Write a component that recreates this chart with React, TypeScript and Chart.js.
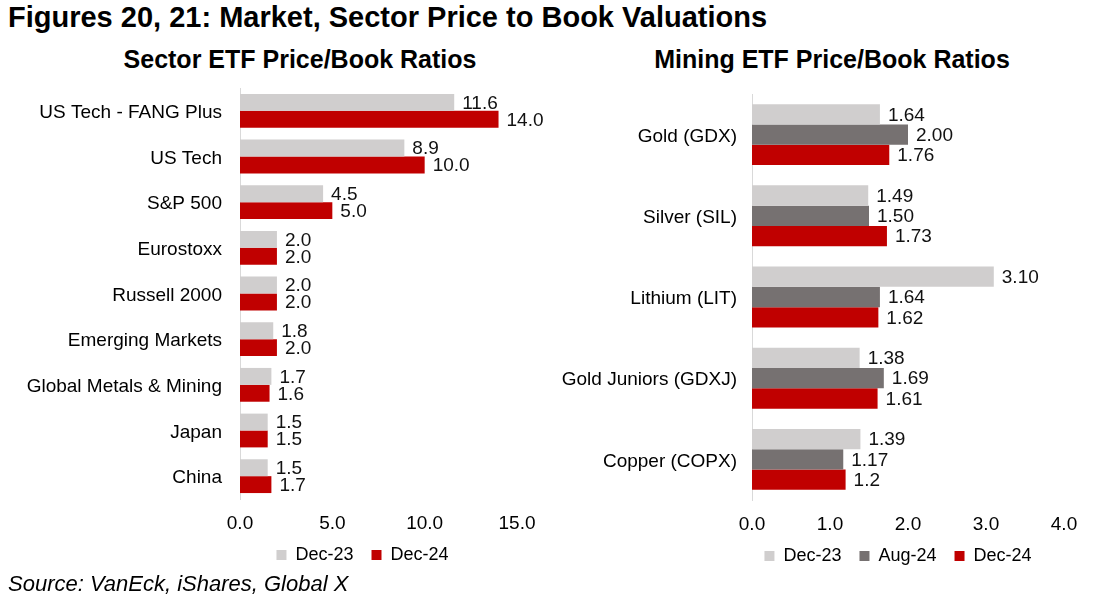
import React, { useEffect, useRef } from "react";
import { Chart, registerables } from "chart.js";
Chart.register(...registerables);

const FONT = "'Liberation Sans', Arial, Helvetica, sans-serif";

const sectorCategories = [
  "US Tech - FANG Plus",
  "US Tech",
  "S&P 500",
  "Eurostoxx",
  "Russell 2000",
  "Emerging Markets",
  "Global Metals & Mining",
  "Japan",
  "China",
];
const sectorDec23 = [11.6, 8.9, 4.5, 2.0, 2.0, 1.8, 1.7, 1.5, 1.5];
const sectorDec24 = [14.0, 10.0, 5.0, 2.0, 2.0, 2.0, 1.6, 1.5, 1.7];
const sectorTicks = [0, 5, 10, 15];

const miningCategories = [
  "Gold (GDX)",
  "Silver (SIL)",
  "Lithium (LIT)",
  "Gold Juniors (GDXJ)",
  "Copper (COPX)",
];
const miningDec23 = [1.64, 1.49, 3.1, 1.38, 1.39];
const miningAug24 = [2.0, 1.5, 1.64, 1.69, 1.17];
const miningDec24 = [1.76, 1.73, 1.62, 1.61, 1.2];
const miningDec24Text = ["1.76", "1.73", "1.62", "1.61", "1.2"];
const miningTicks = [0, 1, 2, 3, 4];

const COL_LIGHT = "#D0CECE";
const COL_DARK = "#767171";
const COL_RED = "#C00000";

const valueLabels = {
  id: "valueLabels",
  afterDatasetsDraw(chart: any) {
    const ctx = chart.ctx;
    ctx.save();
    ctx.font = `19px ${FONT}`;
    ctx.fillStyle = "#111111";
    ctx.textBaseline = "middle";
    ctx.textAlign = "left";
    chart.data.datasets.forEach((ds: any, i: number) => {
      const meta = chart.getDatasetMeta(i);
      meta.data.forEach((el: any, j: number) => {
        const text = ds.labelTexts[j];
        ctx.fillText(text, el.x + 8, el.y + 1);
      });
    });
    ctx.restore();
  },
};

function legendShift(dx: number, dy: number) {
  return {
    id: "legendShift",
    afterLayout(chart: any) {
      if (chart.legend) {
        chart.legend.left += dx;
        chart.legend.right += dx;
        chart.legend.top += dy;
        chart.legend.bottom += dy;
      }
    },
  };
}

function makeConfig(opts: {
  labels: string[];
  datasets: any[];
  ticks: number[];
  decimals: number;
  yWidth: number;
  yPad: number;
  padding: any;
  legendDx: number;
  legendDy: number;
}) {
  return {
    type: "bar",
    data: { labels: opts.labels, datasets: opts.datasets },
    plugins: [valueLabels, legendShift(opts.legendDx, opts.legendDy)],
    options: {
      animation: false,
      responsive: false,
      indexAxis: "y",
      layout: { padding: opts.padding },
      plugins: {
        title: { display: false },
        tooltip: { enabled: false },
        legend: {
          display: true,
          position: "bottom",
          fullSize: false,
          labels: {
            boxWidth: 10,
            boxHeight: 10,
            color: "#000",
            padding: 18,
            font: { size: 18, family: FONT },
          },
        },
      },
      scales: {
        x: {
          min: opts.ticks[0],
          max: opts.ticks[opts.ticks.length - 1],
          afterBuildTicks: (s: any) => {
            s.ticks = opts.ticks.map((v) => ({ value: v }));
          },
          ticks: {
            callback: (v: any) => Number(v).toFixed(opts.decimals),
            color: "#000",
            padding: 13,
            font: { size: 19, family: FONT },
            maxRotation: 0,
          },
          grid: { display: false, drawTicks: false },
          border: { display: false },
          afterFit: (s: any) => {
            s.height = 36;
            s.paddingLeft = 0;
            s.paddingRight = 0;
          },
        },
        y: {
          grid: { display: false, drawTicks: false },
          border: { display: true, color: "#D9D9D9", width: 1 },
          ticks: {
            color: "#000",
            padding: opts.yPad,
            labelOffset: 2,
            font: { size: 19, family: FONT },
          },
          afterFit: (s: any) => {
            s.width = opts.yWidth;
            s.paddingTop = 0;
            s.paddingBottom = 0;
          },
        },
      },
    },
  };
}

function ChartCanvas(props: { config: any; left: number; top: number; width: number; height: number }) {
  const ref = useRef<HTMLCanvasElement | null>(null);
  useEffect(() => {
    if (!ref.current) return;
    const chart = new Chart(ref.current, props.config);
    return () => chart.destroy();
  }, []);
  return (
    <canvas
      ref={ref}
      width={props.width}
      height={props.height}
      style={{ position: "absolute", left: props.left, top: props.top, width: props.width, height: props.height }}
    />
  );
}

export default function App() {
  const leftConfig = makeConfig({
    labels: sectorCategories,
    datasets: [
      {
        label: "Dec-23",
        data: sectorDec23,
        backgroundColor: COL_LIGHT,
        labelTexts: sectorDec23.map((v) => v.toFixed(1)),
        categoryPercentage: 0.74,
        barPercentage: 1,
      },
      {
        label: "Dec-24",
        data: sectorDec24,
        backgroundColor: COL_RED,
        labelTexts: sectorDec24.map((v) => v.toFixed(1)),
        categoryPercentage: 0.74,
        barPercentage: 1,
      },
    ],
    ticks: sectorTicks,
    decimals: 1,
    yWidth: 240,
    yPad: 18,
    padding: { top: 8, right: 28, left: 0, bottom: 0 },
    legendDx: -16,
    legendDy: -7,
  });

  const rightConfig = makeConfig({
    labels: miningCategories,
    datasets: [
      {
        label: "Dec-23",
        data: miningDec23,
        backgroundColor: COL_LIGHT,
        labelTexts: miningDec23.map((v) => v.toFixed(2)),
        categoryPercentage: 0.75,
        barPercentage: 1,
      },
      {
        label: "Aug-24",
        data: miningAug24,
        backgroundColor: COL_DARK,
        labelTexts: miningAug24.map((v) => v.toFixed(2)),
        categoryPercentage: 0.75,
        barPercentage: 1,
      },
      {
        label: "Dec-24",
        data: miningDec24,
        backgroundColor: COL_RED,
        labelTexts: miningDec24Text,
        categoryPercentage: 0.75,
        barPercentage: 1,
      },
    ],
    ticks: miningTicks,
    decimals: 1,
    yWidth: 192,
    yPad: 15,
    padding: { top: 14, right: 35, left: 0, bottom: 0 },
    legendDx: -10,
    legendDy: -7,
  });

  return (
    <div
      style={{
        position: "fixed",
        left: 0,
        top: 0,
        width: 1099,
        height: 603,
        background: "#fff",
        fontFamily: FONT,
        color: "#000",
        overflow: "hidden",
      }}
    >
      <div style={{ position: "absolute", left: 8, top: 0, fontSize: 29, fontWeight: "bold", lineHeight: "34px", whiteSpace: "nowrap" }}>
        Figures 20, 21: Market, Sector Price to Book Valuations
      </div>
      <div style={{ position: "absolute", left: 100, width: 400, top: 44, fontSize: 25, fontWeight: "bold", lineHeight: "30px", textAlign: "center", whiteSpace: "nowrap" }}>
        Sector ETF Price/Book Ratios
      </div>
      <div style={{ position: "absolute", left: 632, width: 400, top: 44, fontSize: 25, fontWeight: "bold", lineHeight: "30px", textAlign: "center", whiteSpace: "nowrap" }}>
        Mining ETF Price/Book Ratios
      </div>
      <ChartCanvas config={leftConfig} left={0} top={80} width={545} height={501} />
      <ChartCanvas config={rightConfig} left={560} top={80} width={539} height={502} />
      <div style={{ position: "absolute", left: 8, top: 571, fontSize: 22, fontStyle: "italic", lineHeight: "26px", whiteSpace: "nowrap" }}>
        Source: VanEck, iShares, Global X
      </div>
    </div>
  );
}
